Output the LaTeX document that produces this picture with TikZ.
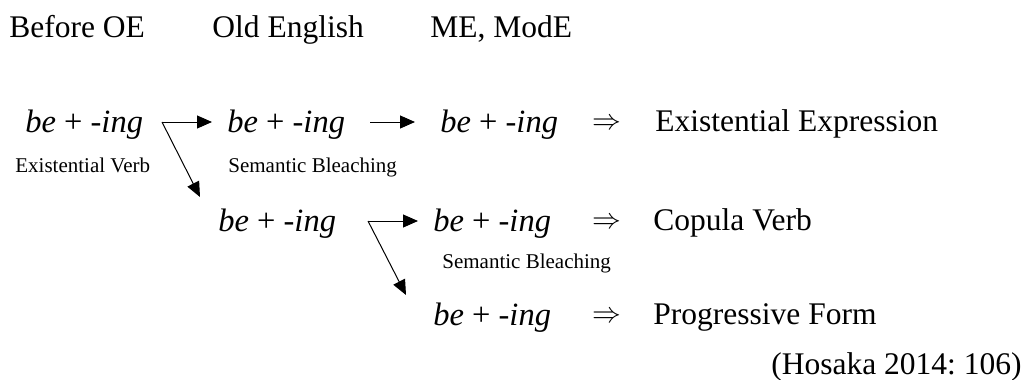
\documentclass[tikz,border=0pt]{standalone}
\usepackage{fontspec}
\setmainfont{Liberation Serif}
\usetikzlibrary{arrows.meta,calc}
\tikzset{
  era/.style={anchor=base west,inner sep=0pt,font=\fontsize{15.75pt}{18pt}\selectfont},
  form/.style={anchor=base west,inner sep=0pt,font=\fontsize{16.25pt}{18pt}\selectfont},
  gloss/.style={anchor=base west,inner sep=0pt,font=\fontsize{10.5pt}{12pt}\selectfont},
  impl/.style={anchor=base west,inner sep=0pt,font=\fontsize{15pt}{17pt}\selectfont},
  fl/.style={-{Triangle[length=7.5pt,width=6.5pt]},line width=0.5pt},
}
\newcommand{\being}{\textit{be} + \textit{-ing}}
\frenchspacing

\begin{document}
\begin{tikzpicture}[x=0.5pt,y=-0.5pt]
  \useasboundingbox (0,0) rectangle (1033,380);
  % periods
  \node[era] (pre) at (9,37) {Before OE};
  \node[era] (oe) at (212,37) {Old English};
  \node[era] (me) at (430,37) {ME, ModE};
  % forms
  \node[form] (b11) at (25,132) {\being};
  \node[form] (b12) at (227,132) {\being};
  \node[form] (b13) at (440,132) {\being};
  \node[form] (b21) at (218,231) {\being};
  \node[form] (b22) at (433,231) {\being};
  \node[form] (b31) at (433,325) {\being};
  \node[gloss] (g11) at (15,172) {Existential Verb};
  \node[gloss] (g12) at (228,172) {Semantic Bleaching};
  \node[gloss] (g22) at (442,268) {Semantic Bleaching};
  % results
  \node[impl] (i1) at (592,129) {$\Rightarrow$};
  \node[impl] (i2) at (592,228) {$\Rightarrow$};
  \node[impl] (i3) at (592,322) {$\Rightarrow$};
  \node[era] (r1) at (655,131) {Existential Expression};
  \node[era] (r2) at (653,230) {Copula Verb};
  \node[era] (r3) at (653,324) {Progressive Form};
  \node[era,anchor=base east] (src) at (1022,374) {(Hosaka 2014: 106)};
  % arrows
  \coordinate (c1) at (162,122);
  \coordinate (d1) at (200,197);
  \coordinate (c2) at (368,221);
  \coordinate (d2) at (406,295);
  \draw[fl,shorten >=7.5pt] (c1) -- (c1 -| b12.west);
  \draw[fl] (c1) -- (d1);
  \draw[fl,shorten <=12.5pt,shorten >=12.5pt] (c1 -| b12.east) -- (c1 -| b13.west);
  \draw[fl,shorten >=7.5pt] (c2) -- (c2 -| b22.west);
  \draw[fl] (c2) -- (d2);
\end{tikzpicture}
\end{document}
